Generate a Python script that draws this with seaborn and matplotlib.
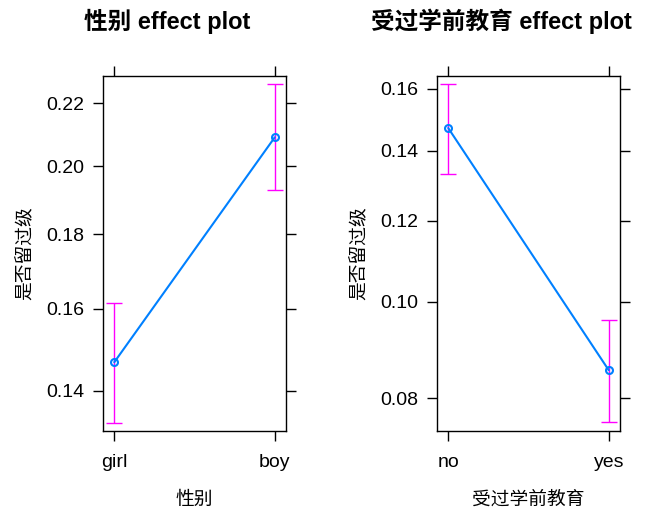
import numpy as np
import seaborn as sns
import matplotlib.pyplot as plt
from matplotlib.ticker import FixedLocator, FormatStrFormatter, NullLocator

# effect estimates (probability scale) with 95% CI
sex_levels = ['girl', 'boy']
sex_fit = [0.1467, 0.2090]
sex_lower = [0.1328, 0.1928]
sex_upper = [0.1614, 0.2262]
sex_ticks = [0.14, 0.16, 0.18, 0.20, 0.22]

pre_levels = ['no', 'yes']
pre_fit = [0.1471, 0.0854]
pre_lower = [0.1332, 0.0756]
pre_upper = [0.1616, 0.0959]
pre_ticks = [0.08, 0.10, 0.12, 0.14, 0.16]

sns.set_theme(style='ticks')
plt.rcParams['font.family'] = ['Liberation Sans', 'Noto Sans CJK SC']
plt.rcParams['axes.unicode_minus'] = False
plt.rcParams['text.color'] = 'black'
plt.rcParams['axes.labelcolor'] = 'black'
plt.rcParams['xtick.color'] = 'black'
plt.rcParams['ytick.color'] = 'black'

fig = plt.figure(figsize=(6.69, 5.22), dpi=100)
ax1 = fig.add_axes([0.154, 0.1743, 0.2735, 0.680])
ax2 = fig.add_axes([0.6532, 0.1743, 0.2735, 0.680])


def effect_panel(ax, levels, fit, lower, upper, ticks, ylim, xlabel):
    x = np.arange(len(levels))
    fit = np.array(fit)
    err = [fit - np.array(lower), np.array(upper) - fit]
    ax.errorbar(x, fit, yerr=err, fmt='none', ecolor='#FF00FF',
                elinewidth=1, capsize=6, capthick=1)
    sns.lineplot(x=x, y=fit, ax=ax, color='#0080FF', linewidth=1.5,
                 marker='o', markersize=5, markerfacecolor='none',
                 markeredgecolor='#0080FF', markeredgewidth=1.5)
    ax.set_yscale('logit')
    ax.set_ylim(*ylim)
    ax.yaxis.set_major_locator(FixedLocator(ticks))
    ax.yaxis.set_major_formatter(FormatStrFormatter('%.2f'))
    ax.yaxis.set_minor_locator(NullLocator())
    ax.set_xlim(-0.07, 1.07)
    ax.set_xticks(x)
    ax.set_xticklabels(levels)
    ax.tick_params(axis='both', which='major', direction='out', length=7.5,
                   width=1, color='black', labelsize=14, pad=6,
                   top=True, right=True, labeltop=False, labelright=False)
    ax.tick_params(axis='x', pad=9)
    for s in ax.spines.values():
        s.set_visible(True)
        s.set_linewidth(1)
        s.set_color('black')
    ax.set_xlabel(xlabel, fontsize=13.5, labelpad=15)
    ax.set_ylabel('是否留过级', fontsize=13.5, labelpad=9)


effect_panel(ax1, sex_levels, sex_fit, sex_lower, sex_upper, sex_ticks,
             (0.1310, 0.2290), '性别')
effect_panel(ax2, pre_levels, pre_fit, pre_lower, pre_upper, pre_ticks,
             (0.0741, 0.1644), '受过学前教育')

fig.text(0.25, 1 - 21 / 522, '性别 effect plot', ha='center', va='center',
         fontsize=17, fontweight='bold')
fig.text(0.75, 1 - 21 / 522, '受过学前教育 effect plot', ha='center', va='center',
         fontsize=17, fontweight='bold')

plt.savefig('out.png', dpi=100)
plt.close()
